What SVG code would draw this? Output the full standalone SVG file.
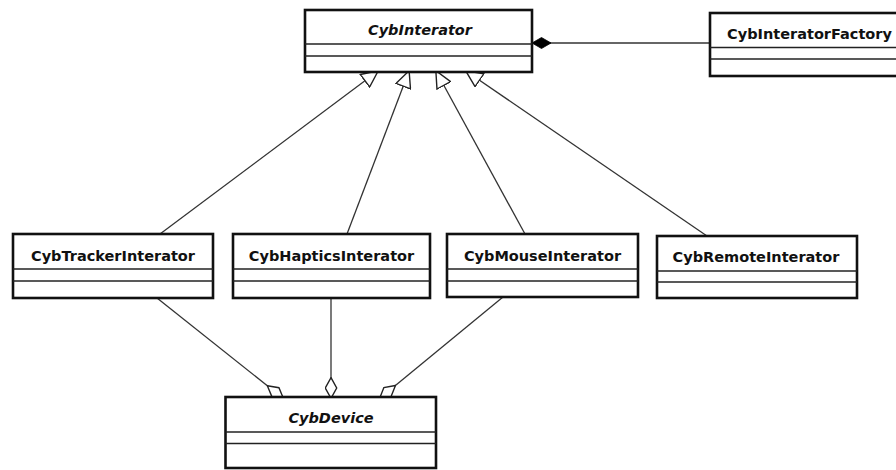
<svg xmlns="http://www.w3.org/2000/svg" width="896" height="470" viewBox="0 0 896 470">
  <style>
    .box { fill: #fff; stroke: #111; stroke-width: 2.6; }
    .sep { stroke: #222; stroke-width: 1.4; fill: none; }
    .name { font-family: "DejaVu Sans", "Liberation Sans", sans-serif; font-weight: bold; font-size: 14.5px; fill: #111; text-anchor: middle; }
    .abstract { font-style: italic; }
    .link { stroke: #333; stroke-width: 1.3; fill: none; }
  </style>
  <defs>
    <!-- hollow triangle: generalization -->
    <marker id="gen" viewBox="0 0 18 17" refX="17" refY="8.5" markerWidth="18" markerHeight="17" markerUnits="userSpaceOnUse" orient="auto">
      <path d="M0.7,0.7 L17.3,8.5 L0.7,16.3 Z" fill="#fff" stroke="#222" stroke-width="1.4"/>
    </marker>
    <!-- filled diamond: composition -->
    <marker id="comp" viewBox="0 0 19 12" refX="19" refY="6" markerWidth="19" markerHeight="12" markerUnits="userSpaceOnUse" orient="auto">
      <path d="M0,6 L9.5,0.5 L19,6 L9.5,11.5 Z" fill="#000" stroke="#000" stroke-width="0.8"/>
    </marker>
    <!-- hollow diamond: aggregation -->
    <marker id="agg" viewBox="0 0 22 13" refX="22" refY="6.5" markerWidth="22" markerHeight="13" markerUnits="userSpaceOnUse" orient="auto">
      <path d="M0.7,6.5 L11,0.8 L21.3,6.5 L11,12.2 Z" fill="#fff" stroke="#222" stroke-width="1.4"/>
    </marker>
  </defs>

  <rect width="896" height="470" fill="#fff"/>

  <g id="connectors">
    <!-- generalizations to CybInterator -->
    <line class="link" x1="160" y1="234" x2="378" y2="71" marker-end="url(#gen)"/>
    <line class="link" x1="347" y1="234" x2="409" y2="71" marker-end="url(#gen)"/>
    <line class="link" x1="525" y1="234" x2="436" y2="71" marker-end="url(#gen)"/>
    <line class="link" x1="707" y1="236" x2="466" y2="71" marker-end="url(#gen)"/>
    <!-- composition from CybInteratorFactory -->
    <line class="link" x1="710" y1="43" x2="532" y2="43" marker-end="url(#comp)"/>
    <!-- aggregations to CybDevice -->
    <line class="link" x1="157" y1="298" x2="284" y2="399" marker-end="url(#agg)"/>
    <line class="link" x1="331" y1="298" x2="331" y2="399" marker-end="url(#agg)"/>
    <line class="link" x1="503" y1="297" x2="379" y2="399" marker-end="url(#agg)"/>
  </g>

  <g id="CybInterator">
    <rect class="box" x="305" y="10" width="227" height="62"/>
    <line class="sep" x1="305" y1="44" x2="532" y2="44"/>
    <line class="sep" x1="305" y1="56" x2="532" y2="56"/>
    <text class="name abstract" x="420" y="35">CybInterator</text>
  </g>

  <g id="CybInteratorFactory">
    <rect class="box" x="710" y="13" width="200" height="63"/>
    <line class="sep" x1="710" y1="47.5" x2="910" y2="47.5"/>
    <line class="sep" x1="710" y1="59" x2="910" y2="59"/>
    <text class="name" x="809.5" y="39">CybInteratorFactory</text>
  </g>

  <g id="CybTrackerInterator">
    <rect class="box" x="13" y="234" width="200" height="64"/>
    <line class="sep" x1="13" y1="269" x2="213" y2="269"/>
    <line class="sep" x1="13" y1="281" x2="213" y2="281"/>
    <text class="name" x="113" y="260.5">CybTrackerInterator</text>
  </g>

  <g id="CybHapticsInterator">
    <rect class="box" x="233" y="234" width="197" height="64"/>
    <line class="sep" x1="233" y1="269" x2="430" y2="269"/>
    <line class="sep" x1="233" y1="281" x2="430" y2="281"/>
    <text class="name" x="331.5" y="260.5">CybHapticsInterator</text>
  </g>

  <g id="CybMouseInterator">
    <rect class="box" x="447" y="234" width="191" height="63"/>
    <line class="sep" x1="447" y1="269" x2="638" y2="269"/>
    <line class="sep" x1="447" y1="281" x2="638" y2="281"/>
    <text class="name" x="542.5" y="260.5">CybMouseInterator</text>
  </g>

  <g id="CybRemoteInterator">
    <rect class="box" x="657" y="236" width="200" height="62"/>
    <line class="sep" x1="657" y1="271" x2="857" y2="271"/>
    <line class="sep" x1="657" y1="282" x2="857" y2="282"/>
    <text class="name" x="756" y="261.5">CybRemoteInterator</text>
  </g>

  <g id="CybDevice">
    <rect class="box" x="225.5" y="397" width="210.5" height="71"/>
    <line class="sep" x1="225.5" y1="432" x2="436" y2="432"/>
    <line class="sep" x1="225.5" y1="443.5" x2="436" y2="443.5"/>
    <text class="name abstract" x="331" y="423">CybDevice</text>
  </g>
</svg>
